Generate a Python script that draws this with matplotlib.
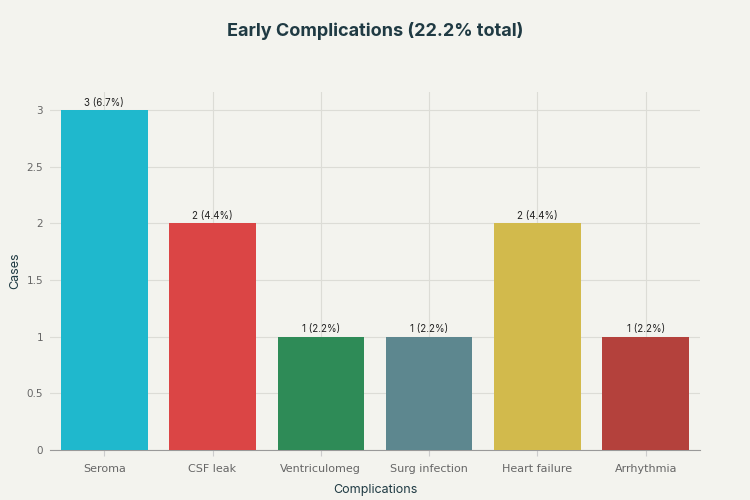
import matplotlib.pyplot as plt

categories = ["Seroma", "CSF leak", "Ventriculomeg", "Surg infection", "Heart failure", "Arrhythmia"]
cases = [3, 2, 1, 1, 2, 1]
labels = ["3 (6.7%)", "2 (4.4%)", "1 (2.2%)", "1 (2.2%)", "2 (4.4%)", "1 (2.2%)"]
colors = ["#1FB8CD", "#DB4545", "#2E8B57", "#5D878F", "#D2BA4C", "#B4413C"]
yticks = [0, 0.5, 1, 1.5, 2, 2.5, 3]
ytick_labels = ["0", "0.5", "1", "1.5", "2", "2.5", "3"]

bg = "#F3F3EE"
fig = plt.figure(figsize=(7.5, 5), dpi=100, facecolor=bg)
ax = fig.add_axes([0.0667, 0.1, 0.8666, 0.716], facecolor=bg)

# bars with count / percent labels on top
x = range(len(categories))
bars = ax.bar(x, cases, width=0.8, color=colors, zorder=3)
for b, lab in zip(bars, labels):
    ax.text(b.get_x() + b.get_width() / 2, b.get_height() + 0.02, lab,
            ha="center", va="bottom", fontsize=7, color="#222222", family="Inter", zorder=4)

ax.set_xlim(-0.5, 5.5)
ax.set_ylim(0, 3.16)
ax.set_xticks(list(x))
ax.set_xticklabels(categories, fontsize=8, color="#666666")
ax.set_yticks(yticks)
ax.set_yticklabels(ytick_labels, fontsize=7.5, color="#666666")
ax.grid(True, color="#DCDCD6", linewidth=0.8, zorder=0)
for s in ["top", "right", "left"]:
    ax.spines[s].set_visible(False)
ax.spines["bottom"].set_color("#999999")
ax.tick_params(axis="x", length=4, color="#CCCCCC", pad=6)
ax.tick_params(axis="y", length=0, pad=5)

ax.set_xlabel("Complications", fontsize=9, color="#1F3A43", family="Inter")
ax.xaxis.set_label_coords(0.5, -0.095)
ax.set_ylabel("Cases", fontsize=9, color="#1F3A43", family="Inter")
ax.yaxis.set_label_coords(-0.044, 0.5)
fig.suptitle("Early Complications (22.2% total)", fontsize=13, fontweight="bold",
             color="#1F3A43", family="Inter", y=0.955)

fig.savefig("out.png", dpi=100, facecolor=bg)
